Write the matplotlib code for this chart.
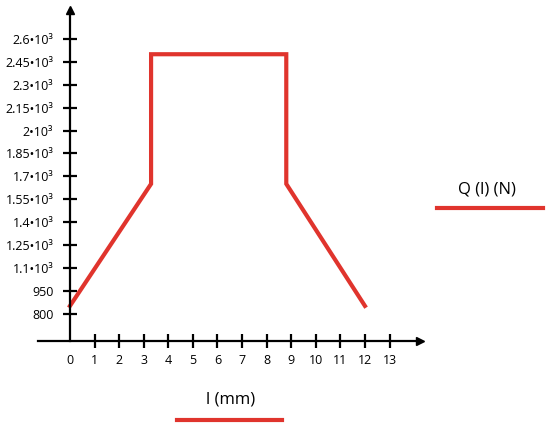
import matplotlib
matplotlib.use('Agg')
import matplotlib.pyplot as plt
from matplotlib.lines import Line2D

plt.rcParams['font.family'] = ['Open Sans', 'DejaVu Sans']

# data ---------------------------------------------------------------
l_mm = [0, 3.3, 3.3, 8.8, 8.8, 12]
q_n = [850, 1650, 2500, 2500, 1650, 850]
x_ticks = list(range(0, 14))
y_ticks = [800, 950, 1100, 1250, 1400, 1550, 1700, 1850, 2000, 2150, 2300, 2450, 2600]
y_labels = ['800', '950', '1.1•10³', '1.25•10³', '1.4•10³', '1.55•10³', '1.7•10³',
            '1.85•10³', '2•10³', '2.15•10³', '2.3•10³', '2.45•10³', '2.6•10³']
series_label = 'Q (l) (N)'
x_label = 'l (mm)'
red = '#e0342d'

fig = plt.figure(figsize=(5.5, 4.3), dpi=100)
ax = fig.add_axes([38/550, 89/430, 382/550, 331/430])
ax.set_xlim(-1.3, 14.24)
ax.set_ylim(620, 2790)

ax.plot(l_mm, q_n, color=red, lw=3, solid_joinstyle='miter', clip_on=False)

# axes look: crossing ticks, arrows at ends
for s in ('top', 'right'):
    ax.spines[s].set_visible(False)
ax.spines['left'].set_position(('data', 0))
ax.spines['left'].set_linewidth(1.6)
ax.spines['bottom'].set_linewidth(1.6)
ax.plot(1, 620, '>k', ms=5.5, transform=ax.get_yaxis_transform(), clip_on=False)
ax.plot(0, 1, '^k', ms=5.5, transform=ax.get_xaxis_transform(), clip_on=False)

ax.set_xticks(x_ticks)
ax.set_yticks(y_ticks)
ax.set_yticklabels(y_labels)
ax.tick_params(axis='both', direction='inout', length=10, width=1.6,
               labelsize=9, colors='black')
ax.tick_params(axis='x', pad=4)
ax.tick_params(axis='y', pad=7)
ax.xaxis.get_major_ticks()[0].tick1line.set_visible(False)

# legend-like labels
fig.text(487/550, 1 - 190/430, series_label, ha='center', va='center', fontsize=12)
fig.add_artist(Line2D([437/550, 543/550], [1 - 208/430, 1 - 208/430], color=red, lw=3))
fig.text(231/550, 1 - 400/430, x_label, ha='center', va='center', fontsize=12)
fig.add_artist(Line2D([177/550, 282/550], [1 - 420/430, 1 - 420/430], color=red, lw=3))

fig.savefig('out.png', dpi=100)
